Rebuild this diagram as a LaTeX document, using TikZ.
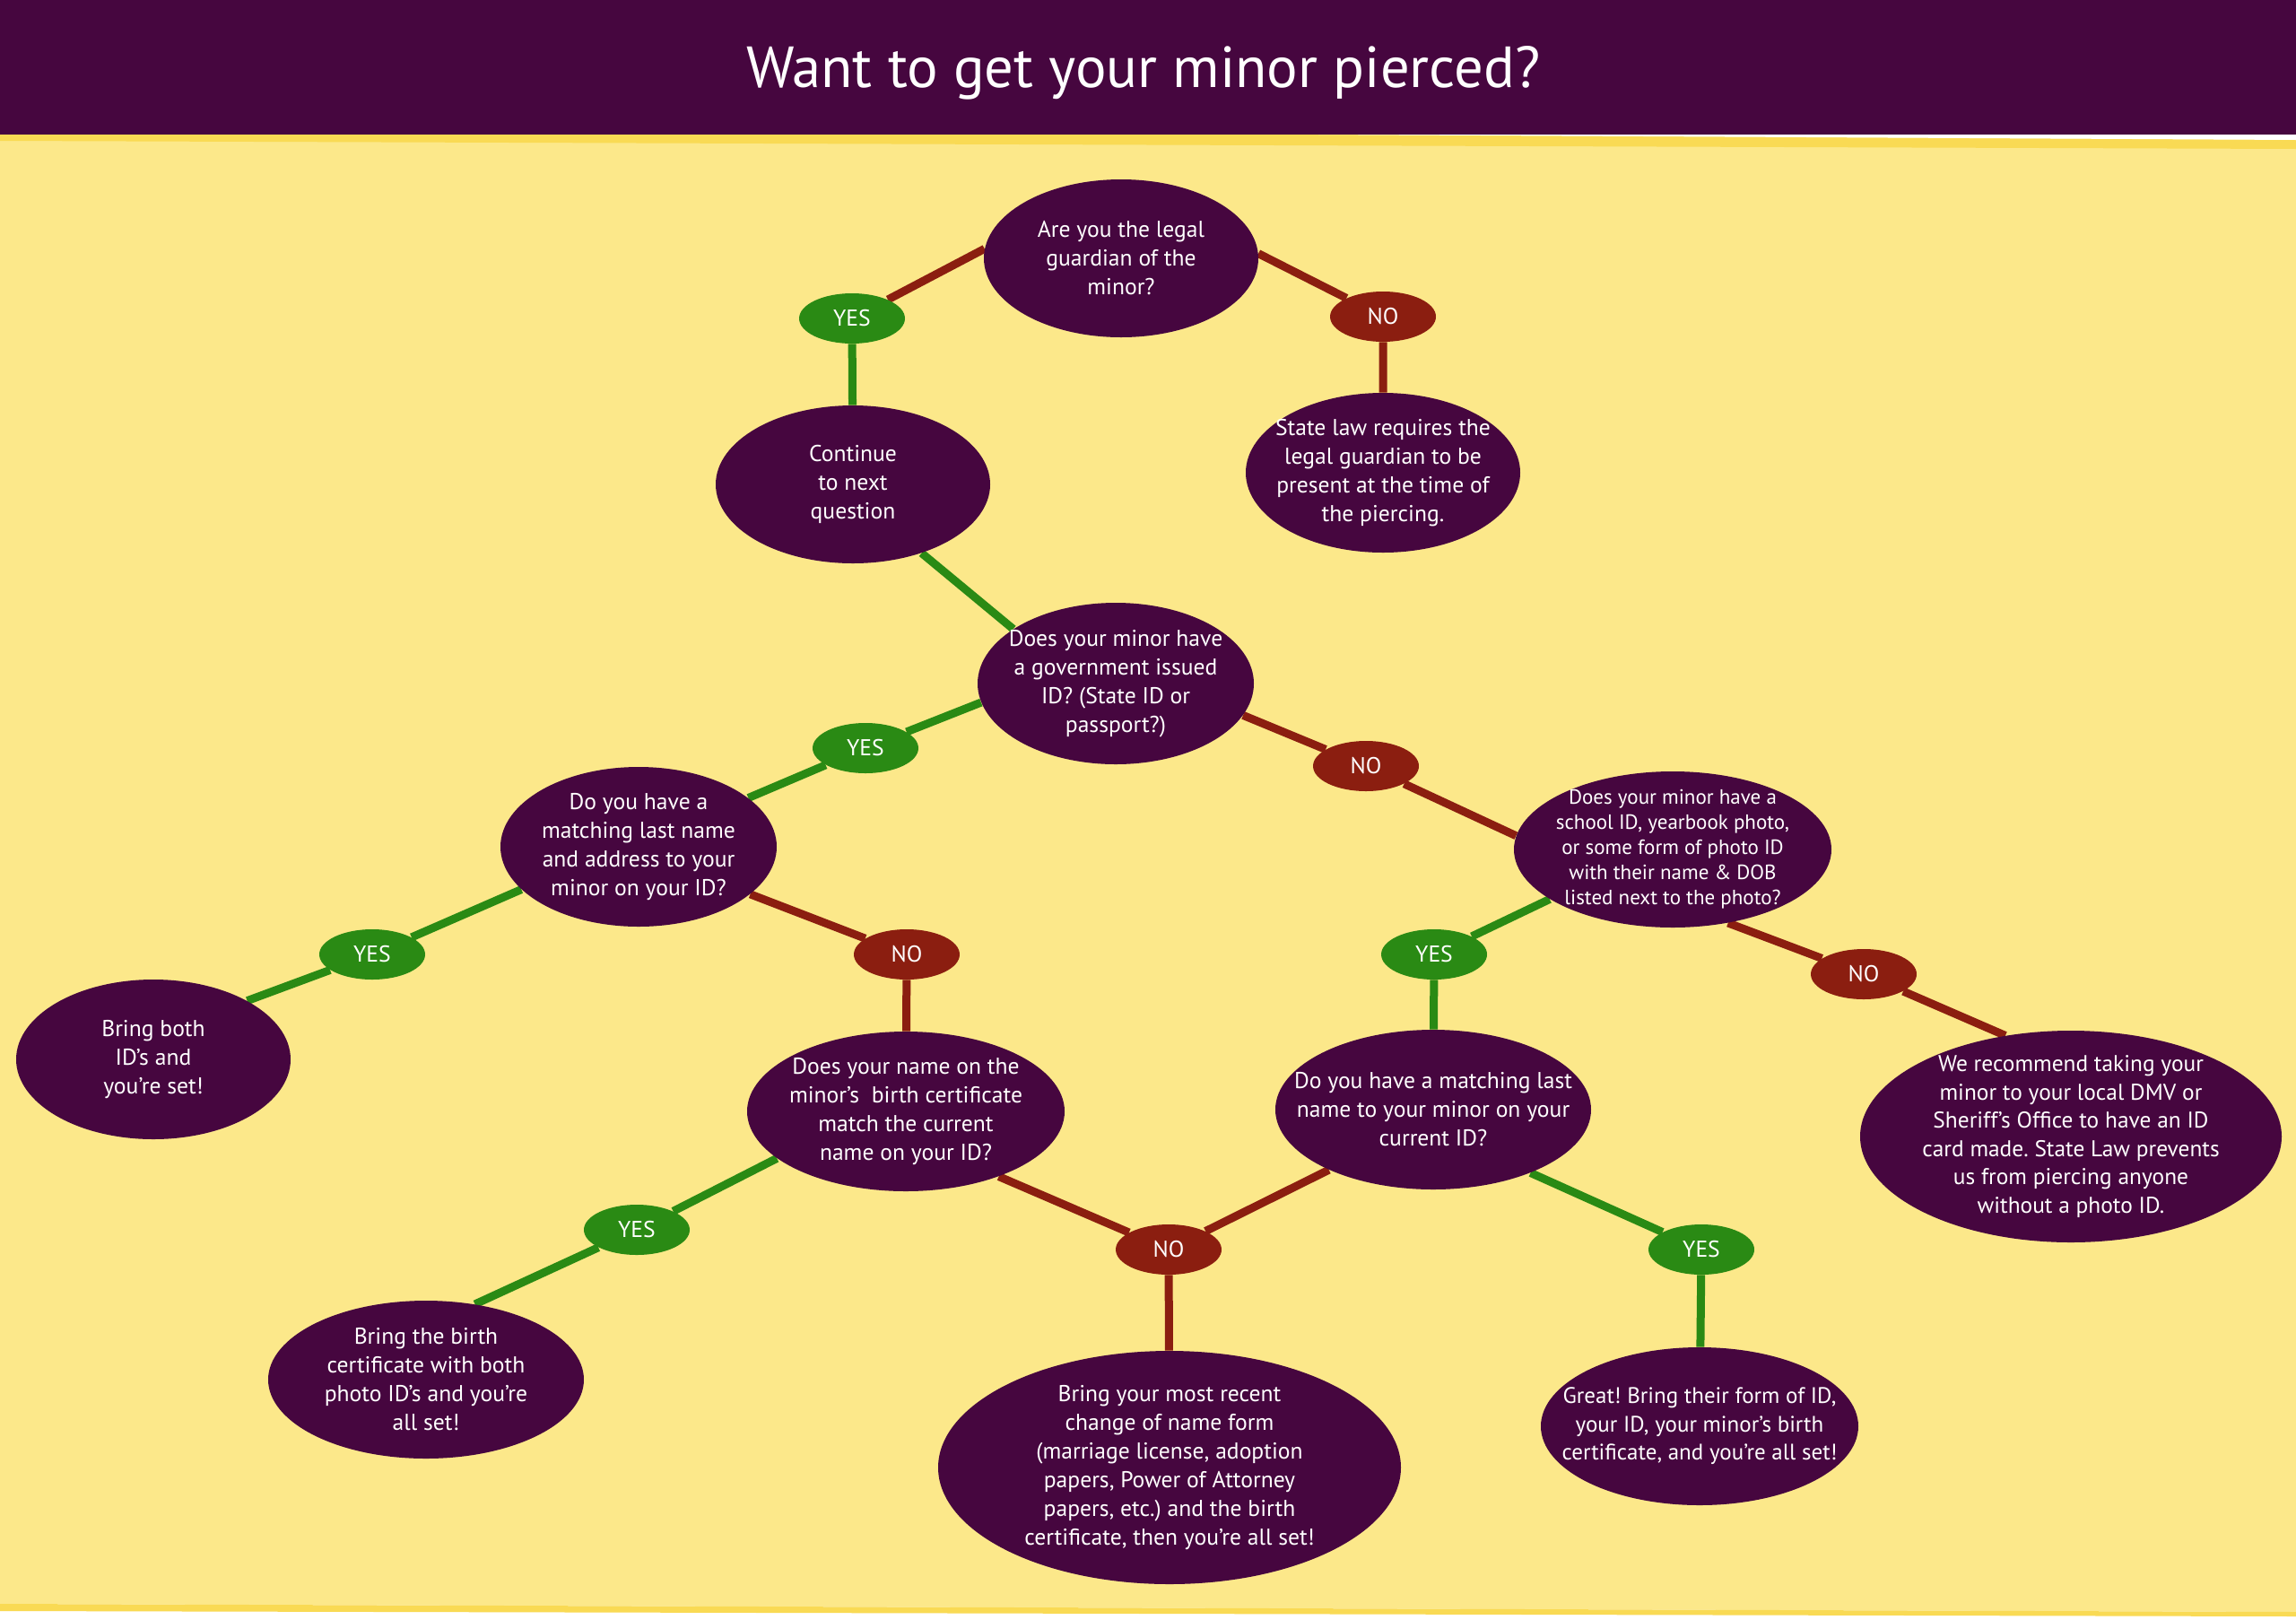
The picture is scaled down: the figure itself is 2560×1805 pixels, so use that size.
\documentclass[tikz,border=0pt]{standalone}
\usepackage{fontspec}
\setmainfont{PT Sans}
\usetikzlibrary{shapes.geometric}
\pgfdeclarelayer{background}
\pgfdeclarelayer{lines}
\pgfsetlayers{background,lines,main}
\definecolor{plum}{HTML}{46063F}
\definecolor{paper}{HTML}{FCE88A}
\definecolor{stripe}{HTML}{F9DA54}
\definecolor{yesgreen}{HTML}{2A8A14}
\definecolor{nored}{HTML}{8B1E10}
\frenchspacing

\begin{document}
\begin{tikzpicture}[x=0.5pt,y=-0.5pt,
  bubble/.style={ellipse, fill=plum, text=white, inner sep=-40pt, align=center,
    font=\fontsize{12.8}{16}\selectfont},
  yesbox/.style={ellipse, fill=yesgreen, text=white, inner sep=-40pt,
    minimum width=59pt, minimum height=28pt, font=\fontsize{12.8}{14}\selectfont},
  nobox/.style={yesbox, fill=nored},
  yesline/.style={draw=yesgreen, line width=4.5pt},
  noline/.style={draw=nored, line width=4.5pt}]
\useasboundingbox (0,0) rectangle (2560,1805);

\begin{pgfonlayer}{background}
\fill[white] (0,0) rectangle (2560,1805);
\fill[paper] (0,150) -- (2560,150) -- (2560,1797) -- (0,1788) -- cycle;
\fill[stripe] (0,150) -- (1470,150) -- (2560,156) -- (2560,166) -- (0,157) -- cycle;
\fill[white] (1470,150) -- (2560,150) -- (2560,156) -- cycle;
\fill[stripe] (0,1788) -- (2560,1797) -- (2560,1802) -- (0,1796) -- cycle;
\fill[plum] (0,0) rectangle (2560,150);
\end{pgfonlayer}

\node[text=white, anchor=base, font=\fontsize{32.3}{36}\selectfont] (title) at (1275,97) {Want to get your minor pierced?};

% questions and answers
\node[bubble, minimum width=153pt, minimum height=88pt] (guardian) at (1250,288) {Are you the legal\\guardian of the\\minor?};
\node[yesbox] (yes1) at (950,355) {YES};
\node[nobox] (no1) at (1542,353) {NO};
\node[bubble, minimum width=153pt, minimum height=88pt] (cont) at (951,540) {Continue\\to next\\question};
\node[bubble, minimum width=153pt, minimum height=89pt] (law) at (1542,527) {State law requires the\\legal guardian to be\\present at the time of\\the piercing.};

\node[bubble, minimum width=154pt, minimum height=90pt] (govid) at (1244,762) {Does your minor have\\a government issued\\ID? (State ID or\\passport?)};
\node[yesbox] (yes2) at (965,834) {YES};
\node[nobox] (no2) at (1523,854) {NO};

\node[bubble, minimum width=154pt, minimum height=89pt] (match) at (712,944) {Do you have a\\matching last name\\and address to your\\minor on your ID?};
\node[bubble, minimum width=177pt, minimum height=87pt, font=\fontsize{11.5}{14}\selectfont] (school) at (1865,947) {Does your minor have a\\school ID, yearbook photo,\\or some form of photo ID\\with their name \& DOB\\listed next to the photo?};
\node[yesbox] (yes3) at (415,1064) {YES};
\node[nobox] (no3) at (1011,1064) {NO};
\node[yesbox] (yes4) at (1599,1064) {YES};
\node[nobox] (no4) at (2078,1086) {NO};

\node[bubble, minimum width=153pt, minimum height=89pt] (both) at (171,1181) {Bring both\\ID’s and\\you’re set!};
\node[bubble, minimum width=177pt, minimum height=89pt] (birth) at (1010,1239) {Does your name on the\\minor’s~ birth certificate\\match the current\\name on your ID?};
\node[bubble, minimum width=176pt, minimum height=89pt] (current) at (1598,1237) {Do you have a matching last\\name to your minor on your\\current ID?};
\node[bubble, minimum width=235pt, minimum height=118pt, font=\fontsize{12.7}{15.75}\selectfont] (dmv) at (2309,1267) {We recommend taking your\\minor to your local DMV or\\Sheriff’s Office to have an ID\\card made. State Law prevents\\us from piercing anyone\\without a photo ID.};
\node[yesbox] (yes5) at (710,1371) {YES};
\node[nobox] (no5) at (1303,1393) {NO};
\node[yesbox] (yes6) at (1897,1393) {YES};

\node[bubble, minimum width=176pt, minimum height=88pt] (certboth) at (475,1538) {Bring the birth\\certificate with both\\photo ID’s and you’re\\all set!};
\node[bubble, minimum width=258pt, minimum height=130pt] (recent) at (1304,1636) {Bring your most recent\\change of name form\\(marriage license, adoption\\papers, Power of Attorney\\papers, etc.) and the birth\\certificate, then you’re all set!};
\node[bubble, minimum width=177pt, minimum height=88pt, font=\fontsize{12.5}{15.75}\selectfont] (great) at (1895,1590) {Great! Bring their form of ID,\\your ID, your minor’s birth\\certificate, and you’re all set!};

% connectors
\begin{pgfonlayer}{lines}
\draw[noline] (guardian.176) -- (yes1);
\draw[yesline] (yes1) -- (cont);
\draw[noline] (guardian.2) -- (no1) -- (law);
\draw[yesline] (cont.-45) -- (govid.152);
\draw[yesline] (govid.188) -- (yes2) -- (match.24);
\draw[noline] (govid.-14) -- (no2) -- (school.175);
\draw[yesline] (match.200) -- (yes3) -- (both.32);
\draw[noline] (match.-23) -- (no3) -- (birth);
\draw[yesline] (school.202) -- (yes4) -- (current);
\draw[noline] (school.-53) -- (no4) -- (dmv.123);
\draw[yesline] (birth.200) -- (yes5) -- (certboth.57);
\draw[noline] (birth.-35) -- (no5) -- (current.210);
\draw[noline] (no5) -- (recent);
\draw[yesline] (current.-33) -- (yes6) -- (great);
\end{pgfonlayer}
\end{tikzpicture}
\end{document}
